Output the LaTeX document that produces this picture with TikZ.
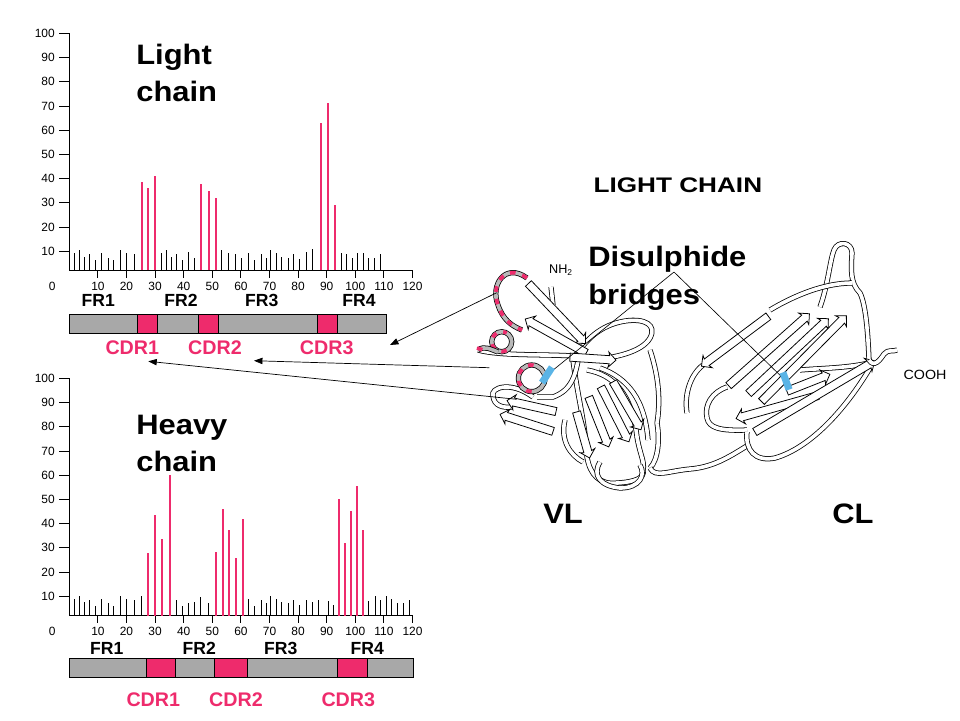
\documentclass[tikz,border=0pt]{standalone}
\usepackage{fontspec}
\setmainfont{Liberation Sans}
\usetikzlibrary{arrows.meta,calc,shapes.arrows}
\definecolor{cdrpink}{HTML}{EE2B6C}
\definecolor{framegray}{HTML}{A8A8A8}
\definecolor{ssblue}{HTML}{5AB4E6}
\newcommand{\strand}[2]{\path let \p1=($(#2)-(#1)$), \n1={veclen(\x1,\y1)} in (#1) -- node[Strand, minimum height=\n1] {} (#2);}
\begin{document}
\begin{tikzpicture}[x=0.25mm, y=-0.25mm]
\tikzstyle{Bar} = [line width=0.55pt]
\tikzstyle{Hit} = [draw=cdrpink, line width=1.6pt]
\tikzstyle{Tick} = [font=\fontsize{8.5}{9}\selectfont, inner sep=0pt]
\tikzstyle{Title} = [font=\fontsize{20}{26.6}\selectfont\bfseries, xscale=1.1, align=left, inner sep=0pt, anchor=base west]
\tikzstyle{Region} = [font=\fontsize{12.5}{13}\selectfont\bfseries, inner sep=0pt]
\tikzstyle{Cdr} = [font=\fontsize{14}{15}\selectfont\bfseries, text=cdrpink, inner sep=0pt]
\tikzstyle{Frame} = [draw, fill=framegray, line width=0.8pt]
\tikzstyle{Loop} = [draw, fill=cdrpink, line width=0.8pt]
\tikzstyle{Tube} = [line width=0.55pt, double=white, double distance=2.6pt]
\tikzstyle{CdrTube} = [line width=0.55pt, double=gray!55, double distance=2.6pt]
\tikzstyle{CdrMark} = [draw=cdrpink, line width=2.6pt, dash pattern=on 4pt off 5pt]
\tikzstyle{Strand} = [single arrow, draw, fill=white, line width=0.55pt, inner sep=2.6pt, single arrow head extend=2.6pt, single arrow head indent=0.8pt, sloped, allow upside down]
\tikzstyle{SS} = [fill=ssblue, inner sep=0pt, minimum width=5pt, minimum height=13pt]
\tikzstyle{Pointer} = [-{Triangle[length=6pt,width=4.5pt]}, line width=0.5pt]
\useasboundingbox (0,0) rectangle (960,720);

% axes of both charts
\foreach \dy in {0,345} {
  \begin{scope}[shift={(0,\dy)}]
    \draw[line width=0.6pt] (69.3,33.3) -- (69.3,270) -- (412.7,270);
    \foreach \v in {10,20,...,100} {
      \draw[line width=0.6pt] (59,{275.5-2.422*\v}) -- ++(10.3,0);
      \node[Tick, anchor=east] (y\dy-\v) at (55,{275.5-2.422*\v}) {\v};
    }
    \node[Tick] (o\dy) at (52.3,286.7) {0};
    \foreach \lab [count=\k] in {10,20,...,120} {
      \draw[line width=0.6pt] ({69.3+28.6*\k},270) -- ++(0,8);
      \node[Tick] (x\dy-\lab) at ({69.3+28.6*\k},286.7) {\lab};
    }
  \end{scope}
}

% light chain variability
\foreach \x/\h in {74.3/16.7,79.3/20,84.3/13.3,89.7/15.7,95.3/10,101.3/16.7,108.3/12.3,113.3/10,120.7/20,126.7/16.7,134/15.7,161.7/16.7,166.7/20,171.7/13.3,176.7/15.7,182.3/10,188.3/17.7,194.3/12.3,221.7/20,228.3/16.7,235/15.7,241/12.3,248.3/16.7,254.3/10,261/15.7,266.3/12.3,270.7/20,276.7/16.7,281.7/13.3,288.7/12.3,293.3/15.7,299.3/11,306/17.7,312.7/21,341.3/16.7,346.7/15.7,352.7/12.3,357.7/16.7,363.3/16.7,368.3/12.3,374.3/12.3,380/15.7}
  \draw[Bar] (\x,270) -- ++(0,-\h);
\foreach \x/\h in {142/88,148.3/81.7,155/94,201/86,209/79,216.3/72,321/147,328.3/167.3,334.7/65}
  \draw[Hit] (\x,270) -- ++(0,-\h);

% heavy chain variability
\foreach \x/\h in {74.3/16.7,79.3/20,84.3/13.3,89.7/15.7,95.3/10,101.3/16.7,108.3/12.3,113.3/10,120.7/20,126.7/16.7,134/15.7,141.3/20,176.7/15.7,182.7/10,188.3/12.3,194.3/13.3,200.7/18.3,208.3/12.3,248.3/16.7,254.3/10,261/15.7,266.3/12.3,270.7/20,276.7/16.7,281.7/13.3,288.7/12.3,293.3/15.7,299.3/11,306/15.7,312.7/13.3,318.7/15.7,328/15,333.3/11,368.3/15,375/20,380/15.7,386/20,391.7/16.7,397.3/12.3,403.3/12.3,409.3/15.7}
  \draw[Bar] (\x,615.5) -- ++(0,-\h);
\foreach \x/\h in {148.3/62.7,155/100.7,161.7/76.7,170/140.7,216/63.7,222.7/106.7,229.3/85.7,236/57.7,242.7/96.7,339.3/116.7,345/72.7,351/104.7,356.7/129.7,362.7/85.7}
  \draw[Hit] (\x,615.5) -- ++(0,-\h);

% framework / CDR strips
\draw[Frame] (69.3,314.3) rectangle (386.7,333.3);
\foreach \a/\b in {137.3/157.3,198.7/218.3,317.3/337.3}
  \draw[Loop] (\a,314.3) rectangle (\b,333.3);
\draw[Frame] (69.3,658.7) rectangle (413.3,677.3);
\foreach \a/\b in {146.3/175.3,214.3/247.3,337.3/367.7}
  \draw[Loop] (\a,658.7) rectangle (\b,677.3);

\node[Region] (lfr1) at (98.3,300) {FR1};
\node[Region] (lfr2) at (181,300) {FR2};
\node[Region] (lfr3) at (261.7,300) {FR3};
\node[Region] (lfr4) at (359,300) {FR4};
\node[Cdr] (lcdr1) at (132.3,348) {CDR1};
\node[Cdr] (lcdr2) at (215,348) {CDR2};
\node[Cdr] (lcdr3) at (326.7,348) {CDR3};
\node[Region] (hfr1) at (106.7,648.3) {FR1};
\node[Region] (hfr2) at (199.3,648.3) {FR2};
\node[Region] (hfr3) at (280.7,648.3) {FR3};
\node[Region] (hfr4) at (367.3,648.3) {FR4};
\node[Cdr] (hcdr1) at (153.3,700) {CDR1};
\node[Cdr] (hcdr2) at (236,700) {CDR2};
\node[Cdr] (hcdr3) at (348.3,700) {CDR3};

\node[Title] (light) at (136,101.7) {Light\\chain};
\node[Title] (heavy) at (136,471.7) {Heavy\\chain};
\node[Title] (disul) at (588,304) {Disulphide\\bridges};
\node[font=\fontsize{15}{16}\selectfont\bfseries, xscale=1.24, anchor=base west, inner sep=0pt] (lc) at (593.3,192.3) {LIGHT CHAIN};
\node[Title] (vl) at (543,523.3) {VL};
\node[Title] (cl) at (832,523.3) {CL};

% VL domain
\draw[Tube] (657,423) .. controls (660,440) and (658,460) .. (650,468);
\draw[Tube] (650,350) .. controls (660,380) and (660,405) .. (657,423);
\draw[Tube] (600,368) .. controls (628,378) and (645,400) .. (648,440);
\draw[Tube] (587,370) .. controls (615,375) and (632,395) .. (637,437) .. controls (640,455) and (645,462) .. (643,470);
\draw[Tube] (573,360) .. controls (578,400) and (585,420) .. (587,457) .. controls (590,475) and (600,485) .. (617,483) .. controls (635,482) and (645,478) .. (643,470);
\draw[Tube] (600,462) .. controls (592,475) and (600,486) .. (620,488) .. controls (640,488) and (646,475) .. (640,465);
\draw[Tube] (565,420) .. controls (560,440) and (570,455) .. (583,462);
\strand{612,380}{640,428}
\strand{600,385}{628,440}
\strand{588,395}{608,445}
\strand{576,410}{589,456}
\draw[Tube] (573,360) .. controls (585,340) and (600,325) .. (625,321) .. controls (645,318) and (657,325) .. (650,338) .. controls (642,352) and (615,358) .. (590,360);
\draw[Tube] (580,345) .. controls (577,375) and (572,390) .. (553,397) -- (537,397);
\draw[Tube] (533,397) .. controls (510,380) and (490,388) .. (493,396) .. controls (494,406) and (503,408) .. (512,407);
\strand{555,432}{502,415}
\strand{558,412}{509,401}
\draw[Tube] (551,287) -- (553,305);
\strand{527,282}{584,342}
\strand{588,354}{527,320}
\draw[Tube] (478,350) .. controls (500,356) and (540,354) .. (575,356);
\strand{568,357}{614,360}
\def\cdrone{(527,278) .. controls (505,262) and (490,285) .. (498,305) .. controls (503,320) and (512,326) .. (522,330)}
\draw[CdrTube] \cdrone;
\draw[CdrMark] \cdrone;
\draw[CdrTube] (501.7,341.7) circle[radius=10];
\draw[CdrMark] (501.7,341.7) ++(60:10) arc[start angle=60, end angle=300, radius=10];
\draw[CdrTube] (478,350) .. controls (485,345) and (492,350) .. (498,352);
\draw[CdrMark] (477,348) -- (483,350);
\draw[CdrTube] (531.7,378.3) circle[radius=13.3];
\draw[CdrMark] (531.7,378.3) ++(90:13.3) arc[start angle=90, end angle=290, radius=13.3];
\node[font=\fontsize{9}{9}\selectfont, inner sep=0pt] (nh) at (561,270) {NH\textsubscript{2}};

% linker
\draw[Tube] (650,468) .. controls (655,478) and (668,471) .. (690,469) .. controls (715,467) and (732,455) .. (750,444);

% CL domain
\draw[Tube] (820,307) .. controls (828,285) and (830,260) .. (834,250) .. controls (838,240) and (852,242) .. (852,253) .. controls (851,270) and (850,283) .. (860,293) .. controls (866,305) and (868,335) .. (869,360);
\draw[Tube] (770,310) .. controls (795,295) and (825,283) .. (852,283);
\draw[Tube] (873,362) .. controls (850,368) and (825,368) .. (800,370);
\draw[Tube] (703,365) .. controls (690,375) and (684,395) .. (687,413);
\draw[Tube] (727,387) .. controls (712,392) and (704,405) .. (707,418) .. controls (709,428) and (720,431) .. (747,430);
\draw[Tube] (747,432) .. controls (745,450) and (755,462) .. (775,458) .. controls (810,448) and (845,410) .. (870,368);
\strand{770,315}{703,365}
\strand{727,387}{808,315}
\strand{747,395}{827,320}
\strand{760,403}{845,317}
\strand{820,395}{738,418}
\strand{785,392}{828,375}
\strand{753,433}{873,362}
\draw[Tube] (869,360) .. controls (874,368) and (880,360) .. (884,354) .. controls (888,349) and (893,352) .. (897,350);
\node[font=\fontsize{9.5}{10}\selectfont, xscale=1.07, inner sep=0pt] (cooh) at (925,375) {COOH};

% disulphide bridges
\coordinate (fork) at (674,272);
\coordinate (vlss) at (547,375);
\coordinate (clss) at (786,381);
\draw[line width=0.45pt] (fork) -- (vlss);
\draw[line width=0.45pt] (fork) -- (clss);
\node[SS, rotate=-33] (ssvl) at (vlss) {};
\node[SS, rotate=20] (sscl) at (clss) {};

% CDR pointers
\coordinate (site1) at (496.7,292.7);
\coordinate (site2) at (489.3,367.7);
\coordinate (site3) at (516.7,399.3);
\coordinate (tip1) at (390,345);
\coordinate (tip2) at (254,360.7);
\coordinate (tip3) at (148.3,361.3);
\draw[Pointer] (site1) -- (tip1);
\draw[Pointer] (site2) -- (tip2);
\draw[Pointer] (site3) -- (tip3);
\end{tikzpicture}
\end{document}
